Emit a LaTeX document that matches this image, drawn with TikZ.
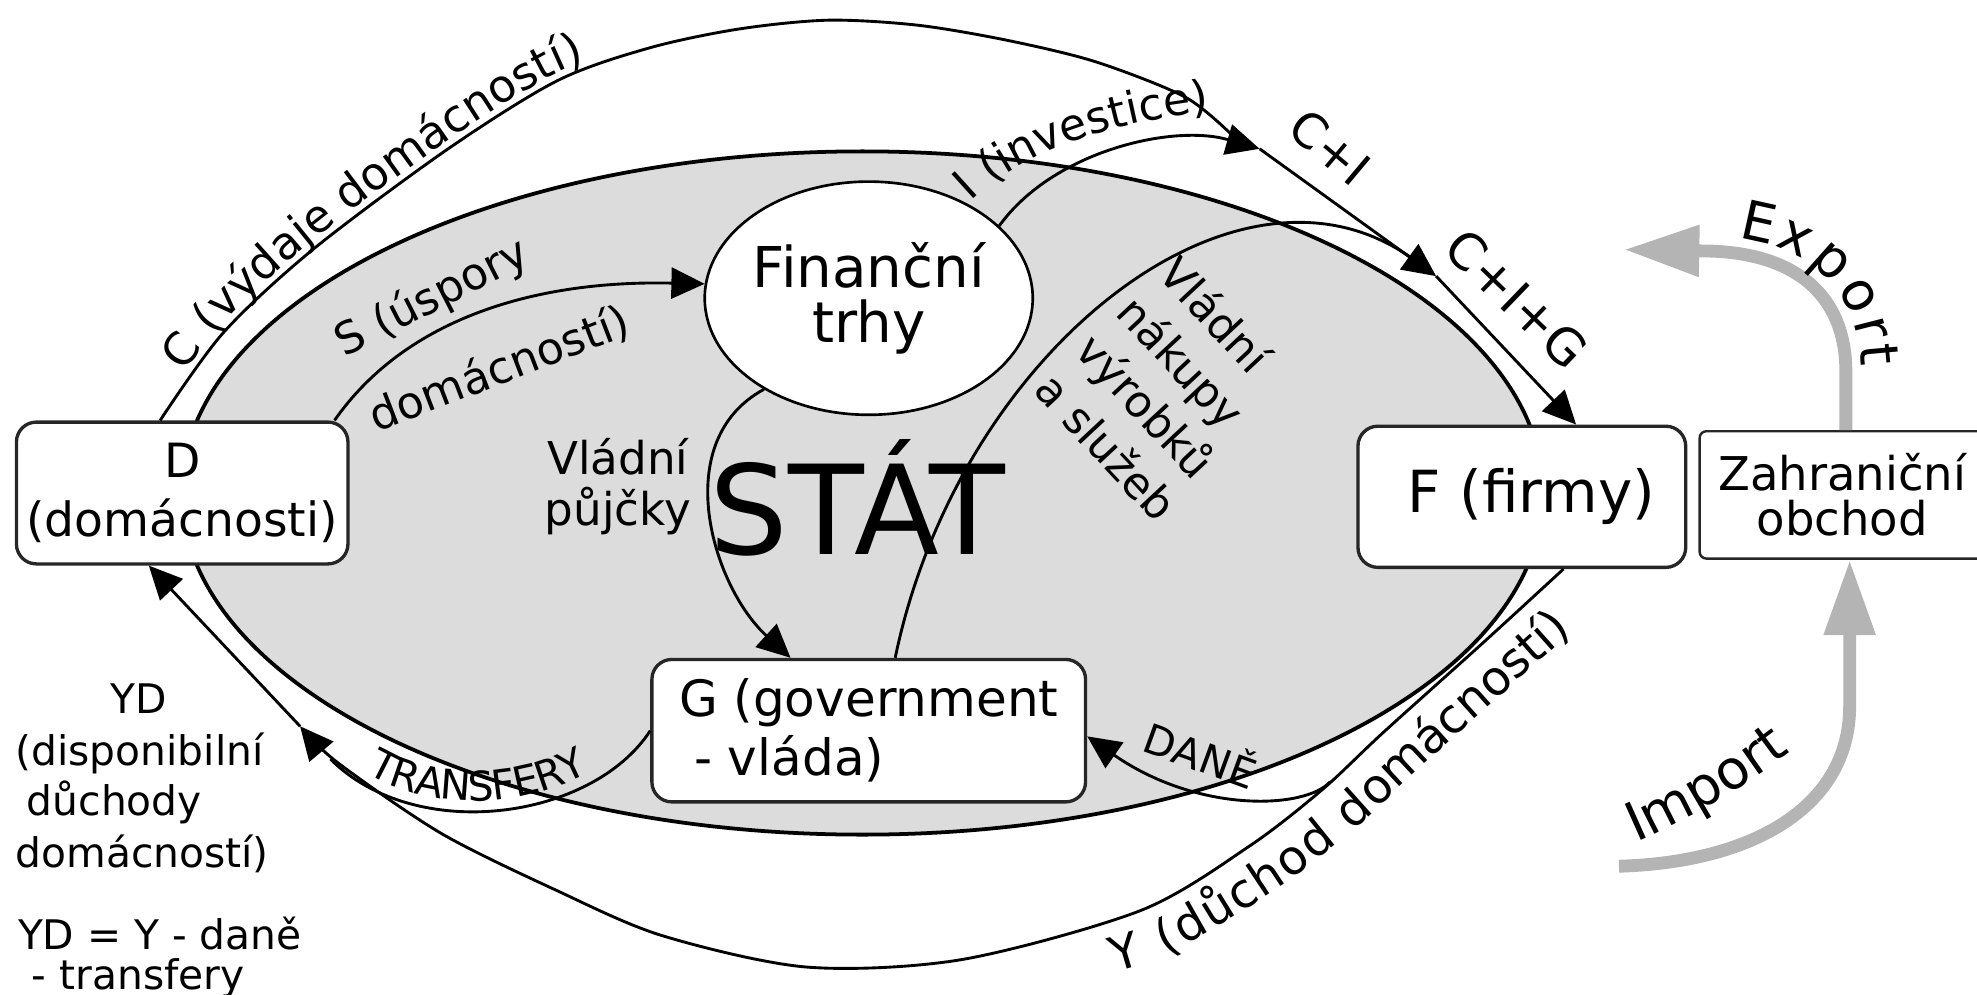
\documentclass[tikz,border=0pt]{standalone}
\usepackage{fontspec}
\setmainfont{DejaVu Sans}
\usetikzlibrary{arrows.meta,calc,decorations.text,shapes.geometric}
\definecolor{stategrey}{HTML}{DCDCDC}
\definecolor{tradegrey}{HTML}{B4B4B4}
\definecolor{boxline}{HTML}{262626}
\newcommand\fsLbl{\fontsize{20.4}{24}\selectfont}
\newcommand\fsY{\fontsize{21.6}{25}\selectfont}
\newcommand\fsI{\fontsize{20}{23}\selectfont}
\newcommand\fsTr{\fontsize{18.5}{21}\selectfont}
\newcommand\fsEx{\fontsize{24.4}{28}\selectfont}
\newcommand\fsYD{\fontsize{18.4}{23}\selectfont}
\begin{document}
\begin{tikzpicture}[x=0.02cm,y=-0.02cm,
  conn/.style={draw=black,line width=1.3pt},
  arr/.style={-{Triangle[length=15pt,width=14pt]}},
  box/.style={draw=boxline,line width=1.5pt,fill=white,rounded corners=9pt,inner sep=0pt,align=center},
  gflow/.style={draw=tradegrey,line width=5.8pt},
  garr/.style={-{Triangle[length=34pt,width=22pt]}},
  plain/.style={inner sep=0pt}
]
\useasboundingbox (0,0) rectangle (1568,789);
\clip (0,0) rectangle (1568,789);

% state region
\node[ellipse,draw=black,line width=1.7pt,fill=stategrey,minimum width=21.6cm,minimum height=10.84cm,inner sep=0pt] (stat) at (684,391) {};
\node[plain,anchor=base,font=\fontsize{56}{60}\selectfont] (stattext) at (680,440) {STÁT};

% nodes
\node[ellipse,draw=black,line width=1.2pt,fill=white,minimum width=5cm,minimum height=3.7cm,inner sep=0pt,align=center,font=\fontsize{25.4}{25}\selectfont] (fin) at (689,236.5) {Finanční\\trhy};
\node[box,minimum width=5.26cm,minimum height=2.25cm,font=\fontsize{21.3}{26.6}\selectfont] (D) at (144.5,391) {D\\(domácnosti)};
\node[box,minimum width=6.88cm,minimum height=2.26cm,align=left,font=\fontsize{22.6}{26.6}\selectfont] (G) at (689,579.5) {G (government\\\hspace*{0.3em}- vláda)};
\node[box,minimum width=5.2cm,minimum height=2.24cm,font=\fontsize{26.2}{30}\selectfont] (F) at (1207,394) {\hspace*{0.3cm}F (firmy)};
\node[box,rounded corners=3pt,line width=1.1pt,minimum width=4.52cm,minimum height=2.02cm,font=\fontsize{21}{20.5}\selectfont] (Z) at (1461,392.5) {Zahraniční\\obchod};

% junction coordinates
\coordinate (a1) at (999,118);
\coordinate (a2) at (1139,219);
\coordinate (j2) at (238,576);
\coordinate (cS) at ($(D.north)+(-17.5,0)$);
\coordinate (cE) at (977,107);
\coordinate (yS) at ($(F.south)+(33,0)$);
\coordinate (dS) at (1055,620);
\coordinate (tE) at (262,602);
\coordinate (nE) at (1120,205);
\coordinate (impS) at (1284,687);
\coordinate (expT) at (1288,198);

% connectors
\draw[conn] plot[smooth] coordinates {(cS) (177,264) (248,198) (354,119) (442,64) (515,38) (586,23) (657,16) (728,20) (799,32) (869,49) (940,77) (cE)};
\draw[conn,arr] (fin.29) .. controls (835,120) and (930,98) .. (a1);
\draw[conn,arr] (a1) -- (a2);
\draw[conn,arr] (a2) -- ($(F.north)+(43,0)$);
\draw[conn,arr] ($(D.north east)+(-12,0)$) .. controls (320,255) and (420,222) .. (fin.175);
\draw[conn,arr] (fin.-139) .. controls (530,350) and (565,465) .. ($(G.north)+(-62,0)$);
\draw[conn] ($(G.north)+(21,0)$) .. controls (760,280) and (980,105) .. (nE);
\draw[conn,arr] plot[smooth] coordinates {(yS) (1176,510) (1097,581) (1049,626) (991,671) (905,722) (763,761) (640,767) (525,742) (441,706) (350,661) (268,605) (j2)};
\draw[conn,arr] (j2) -- ($(D.south)+(-26.5,0)$);
\draw[conn] (G.west) .. controls (470,650) and (330,670) .. (tE);
\draw[conn,arr] (dS) .. controls (1035,642) and (950,645) .. ($(G.east)+(0,4.5)$);
\draw[gflow,garr] ($(Z.north)+(3,0)$) -- (1464,295) .. controls (1464,235) and (1425,199) .. (1349,199) -- (expT);
\draw[gflow,garr] (impS) .. controls (1390,684) and (1467,640) .. (1467,560) -- ($(Z.south)+(6,0)$);

% curved labels
\path[decorate,decoration={text along path,text={|\fsLbl|C (výdaje domácností)},text align={left,left indent=24pt},raise=3pt}] plot[smooth] coordinates {(cS) (177,264) (248,198) (354,119) (442,64) (515,38) (586,23) (657,16) (728,20)};
\path[decorate,decoration={text along path,text={|\fsY|Y (důchod domácností)},text align={left,left indent=31pt},raise=-23pt}] plot[smooth] coordinates {(820,745) (905,722) (991,671) (1049,626) (1097,581) (1176,510) (1240,451) (1285,390)};
\path[decorate,decoration={text along path,text={|\fsI|I (investice)},text align={left,left indent=8pt},raise=0pt}] (760,170) .. controls (800,123) and (880,93) .. (990,86);
\path[decorate,decoration={text along path,text={|\fsTr|TRANSFERY},text align={left,left indent=18pt},raise=5pt}] (262,602) .. controls (330,670) and (470,650) .. (517,580);
\path[decorate,decoration={text along path,text={|\fsEx|Export},text align={left,left indent=33pt},raise=7pt}] (1318,199) -- (1349,199) .. controls (1425,199) and (1464,235) .. (1464,295) -- (1464,345);
\path[decorate,decoration={text along path,text={|\fsEx|Import},text align={left,left indent=1pt},raise=0pt}] (1296,669) .. controls (1345,648) and (1395,618) .. (1445,576) -- (1475,548);

% straight labels
\node[plain,rotate=-40,font=\fontsize{21.5}{24}\selectfont] (lCI) at (1055,117) {C+I};
\node[plain,rotate=-44,font=\fontsize{22.7}{26}\selectfont] (lCIG) at (1203,237) {C+I+G};
\node[plain,rotate=-20,font=\fontsize{18.5}{21}\selectfont] (lDane) at (953,597) {DANĚ};
\node[plain,rotate=27,anchor=base west,font=\fontsize{20}{24}\selectfont] (lS1) at (273,284) {S (úspory};
\node[plain,rotate=21,anchor=base west,font=\fontsize{20}{24}\selectfont] (lS2) at (298,343) {domácností)};
\node[plain,align=center,font=\fontsize{20.4}{23}\selectfont] (lVP) at (490,386) {Vládní\\půjčky};
\node[plain,rotate=-47,align=left,font=\fontsize{19.8}{25.5}\selectfont] (lVN) at (927,308) {Vládní\\nákupy\\výrobků\\a služeb};

% household income notes
\node[plain,anchor=base,font=\fsYD] (yd1) at (110,566) {YD};
\node[plain,anchor=base west,font=\fsYD] (yd2) at (12,607) {(disponibilní};
\node[plain,anchor=base west,font=\fsYD] (yd3) at (21,647) {důchody};
\node[plain,anchor=base west,font=\fsYD] (yd4) at (12,688) {domácností)};
\node[plain,anchor=base west,font=\fsYD] (yd5) at (14,753) {YD = Y - daně};
\node[plain,anchor=base west,font=\fsYD] (yd6) at (25,785) {- transfery};
\end{tikzpicture}
\end{document}
